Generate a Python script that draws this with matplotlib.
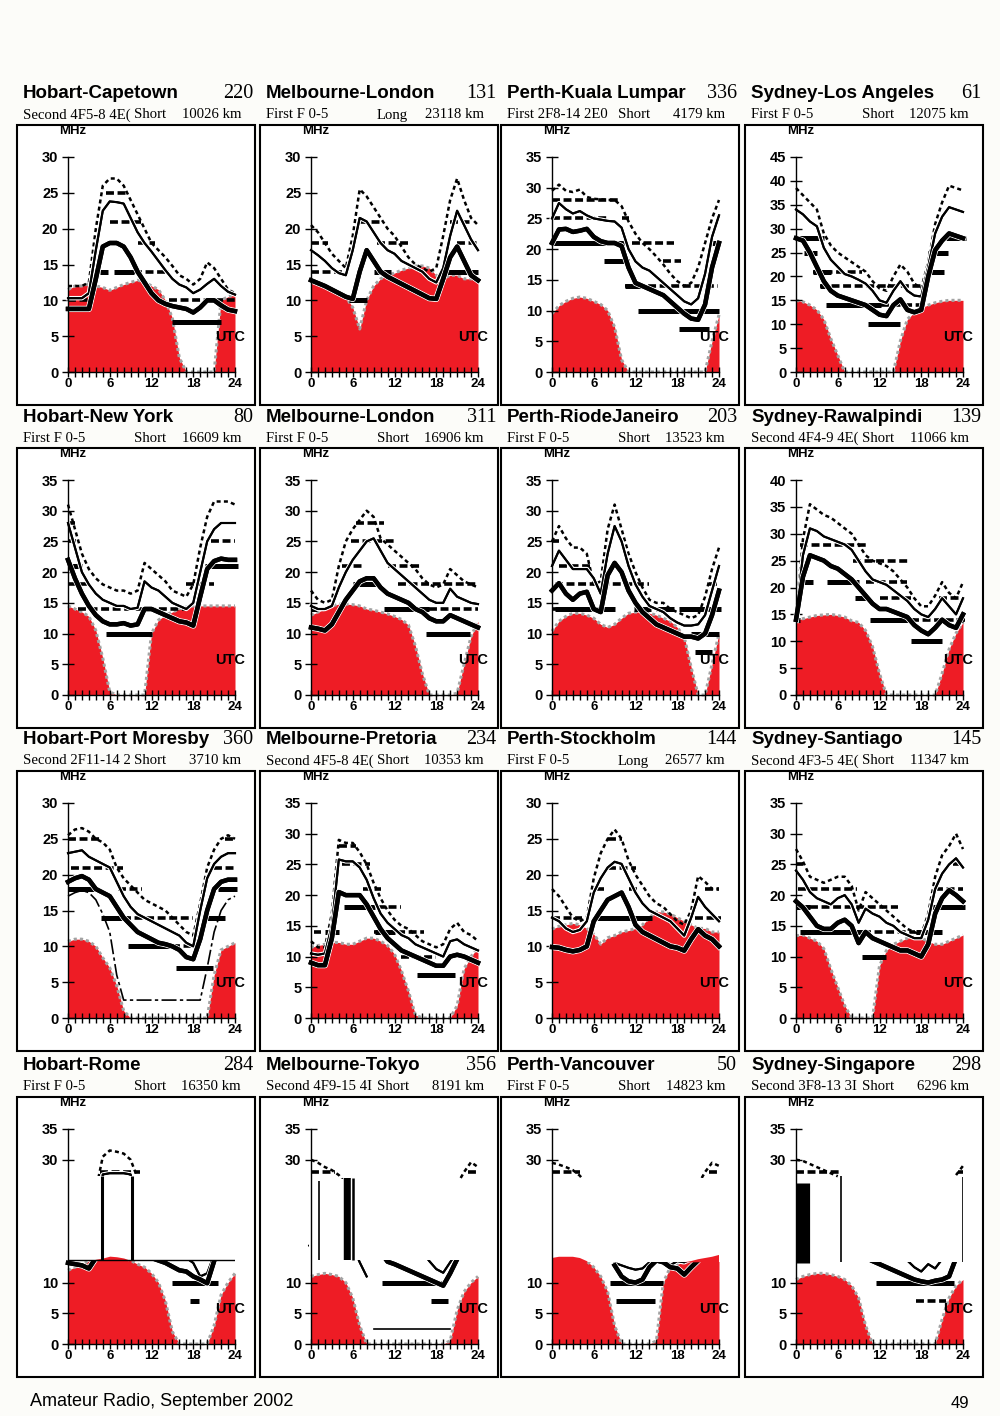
import numpy as np
import matplotlib
matplotlib.use('Agg')
import matplotlib.pyplot as plt
from matplotlib.patches import Rectangle
from matplotlib.transforms import blended_transform_factory
import matplotlib.patheffects as pe

# hours of the day, one value per hour
hours = np.arange(25)

# panel headers, row by row
titles = ['Hobart-Capetown', 'Melbourne-London', 'Perth-Kuala Lumpar', 'Sydney-Los Angeles',
          'Hobart-New York', 'Melbourne-London', 'Perth-RiodeJaneiro', 'Sydney-Rawalpindi',
          'Hobart-Port Moresby', 'Melbourne-Pretoria', 'Perth-Stockholm', 'Sydney-Santiago',
          'Hobart-Rome', 'Melbourne-Tokyo', 'Perth-Vancouver', 'Sydney-Singapore']
route_numbers = ['220', '131', '336', '61', '80', '311', '203', '139',
                 '360', '234', '144', '145', '284', '356', '50', '298']
modes = ['Second 4F5-8 4E(', 'First F 0-5', 'First 2F8-14 2E0', 'First F 0-5',
         'First F 0-5', 'First F 0-5', 'First F 0-5', 'Second 4F4-9 4E(',
         'Second 2F11-14 2', 'Second 4F5-8 4E(', 'First F 0-5', 'Second 4F3-5 4E(',
         'First F 0-5', 'Second 4F9-15 4I', 'First F 0-5', 'Second 3F8-13 3I']
paths = ['Short', 'Long', 'Short', 'Short', 'Short', 'Short', 'Short', 'Short',
         'Short', 'Short', 'Long', 'Short', 'Short', 'Short', 'Short', 'Short']
distances = ['10026 km', '23118 km', '4179 km', '12075 km', '16609 km', '16906 km', '13523 km', '11066 km',
             '3710 km', '10353 km', '26577 km', '11347 km', '16350 km', '8191 km', '14823 km', '6296 km']
y_tops = [30, 30, 35, 45, 35, 35, 35, 40, 30, 35, 30, 35, 35, 35, 35, 35]

# ---- Hobart-Capetown
cape_red = [11.5, 12, 12, 12.3, 12, 11.8, 11.4, 11.8, 12.2, 12.5, 12.8, 12.6, 12, 11.5, 10, 7.5, 2, 0, 0, 0, 0, 0, 10, 10.5, 10.8]
cape_thick = [8.8, 8.8, 8.8, 8.8, 13, 17.5, 18, 18, 17.5, 16, 14, 12.5, 11, 10, 9.5, 9.2, 9, 8.8, 8.3, 9, 10, 10, 9.3, 8.7, 8.5]
cape_thin = [10.3, 10.3, 10.3, 11, 17, 22.5, 23.8, 23.7, 23.5, 21.5, 19.5, 18, 16.8, 15.5, 14.2, 13, 12.2, 11.8, 11, 11.5, 12.3, 13, 12, 11.2, 10.8]
cape_dot = [12, 12, 12, 12.5, 20, 26, 27, 27, 26, 24, 22, 20, 18, 17, 16, 14.8, 13.5, 13, 12.2, 13, 15.3, 14.5, 13, 11.5, 11]
cape_dash = [(25, 5.5, 8.5), (21, 6, 10.5), (18, 10, 12.5), (14, 9.5, 14.5), (10, 14.5, 24), (10, 0, 3)]
cape_bar = [(14, 4.6, 5.8), (14, 6.6, 9.5), (7, 15, 22)]

# ---- Melbourne-London (long path)
lon1_red = [12.6, 12.4, 12, 11.5, 11, 10.5, 9, 6, 10, 12, 13, 13.5, 13.8, 14.2, 14.5, 14.8, 14.8, 14.5, 13.5, 13, 13.5, 13.5, 13, 13, 12.8]
lon1_thick = [12.8, 12.4, 12, 11.5, 11, 10.5, 10.2, 14, 17, 15.5, 14, 13.3, 12.8, 12.3, 11.8, 11.3, 10.8, 10.3, 10.2, 13, 16, 17.5, 15.5, 13.5, 12.8]
lon1_thin = [17, 16.3, 15.5, 14.5, 13.8, 13.5, 17, 21.5, 21, 19.5, 18, 17, 16.5, 15.5, 15, 14.5, 14, 13, 12.5, 14.5, 19, 22.5, 20.5, 18.5, 17]
lon1_dot = [20.5, 19.5, 18, 16.5, 15.5, 14.5, 19, 25.5, 24.5, 23, 21.5, 20, 19, 17.5, 16, 15, 14.5, 14, 14.5, 19, 24, 27, 24, 21.5, 20.5]
lon1_dash = [(18, 0, 2.5), (14, 0, 4.5), (21, 7, 10), (18, 9.5, 14), (21, 20, 23), (18, 21, 24), (14, 22, 24)]
lon1_bar = [(10, 5.5, 8), (14, 9, 11.5), (14, 19.5, 24)]

# ---- Perth-Kuala Lumpar
kl_red = [9.5, 10.8, 11.5, 12, 12.2, 12, 11.5, 11, 10, 7.3, 2, 0, 0, 0, 0, 0, 0, 0, 0, 0, 0, 0, 0, 5, 9.3]
kl_thick = [21, 23.2, 23.3, 22.8, 23, 23.3, 22, 21.3, 21, 21, 20.5, 17, 14.5, 14, 13.5, 13, 12.5, 11.5, 10.5, 9.5, 8.7, 8.5, 11, 17, 21]
kl_thin = [25, 27.5, 26.5, 25.8, 26.2, 25.5, 25, 24.8, 24.6, 24.5, 23.5, 20, 18, 17, 16.5, 15.5, 14.5, 13.5, 12.5, 11.5, 11, 12, 16, 22, 25.5]
kl_dot = [29.5, 30.5, 29.5, 29.3, 29.7, 28.5, 28.2, 28.1, 28, 28, 27, 24.5, 22.5, 21, 20, 18.8, 17.5, 16, 14.8, 14, 14.5, 17, 21, 25, 28]
kl_dash = [(28, 0, 9.5), (25, 0, 8), (25, 10, 11), (21, 11.5, 17.5), (18, 16, 18.5), (14, 10.5, 23.8), (10, 19.5, 21)]
kl_bar = [(21, 0, 10.5), (18, 7.5, 11), (14, 10.5, 13), (10, 12.3, 24), (7, 18.3, 22.5), (21, 23, 24)]

# ---- Sydney-Los Angeles
la_red = [15, 14.7, 14, 13, 11, 7, 3.5, 0, 0, 0, 0, 0, 0, 0, 0, 6.5, 11, 12.5, 13.5, 14, 14.5, 14.8, 15, 15, 15]
la_thick = [28, 27.5, 25, 22, 19, 17, 16, 15.5, 15, 14.5, 14, 13, 12, 11.7, 14, 15.2, 13, 12.5, 13, 20, 25.5, 27.5, 29, 28.5, 28]
la_thin = [34, 33, 31.5, 30.5, 26, 23.5, 22, 20.5, 20, 19.3, 18.5, 17, 15, 14.5, 17, 19, 17, 16, 15.8, 22, 29, 32.5, 34.5, 34, 33.5]
la_dot = [38.5, 37, 35.5, 34, 29, 26.5, 25, 24, 23, 22, 21, 19, 17.5, 17, 20, 22.5, 21, 18.5, 17.5, 23, 31, 35.5, 39, 38.5, 38]
la_dash = [(21, 2.5, 9.5), (18, 3.5, 18.5), (14, 12.2, 18)]
la_bar = [(28, 0, 4), (25, 1.2, 3), (21, 2.5, 5), (18, 3.5, 4.5), (14, 4.3, 12.2), (10, 10.3, 15),
          (25, 19, 21.8), (21, 19.3, 21.3), (28, 21.5, 24.5)]

# ---- Hobart-New York
ny_red = [14.5, 14, 13.5, 12.8, 10.5, 6, 0.5, 0, 0, 0, 0, 0, 10, 12.2, 13, 13.5, 14, 14.3, 14.5, 14.5, 14.5, 14.5, 14.5, 14.5, 14.5]
ny_thick = [22, 19, 16.5, 14.5, 13, 12, 11.5, 11.5, 11.7, 11.3, 11.5, 14, 14, 13.5, 13, 12.5, 12, 11.8, 11.3, 16, 20.5, 21.8, 22.2, 22, 22]
ny_thin = [28, 24, 20, 18, 16.5, 15.5, 15, 14.5, 14.5, 14, 14.2, 18.5, 17.5, 17, 16, 15, 14.5, 14, 15, 20, 25, 27, 28, 28, 28]
ny_dot = [31, 27, 23, 20.5, 19, 18, 17.5, 17, 17, 16.5, 17, 21.5, 20.5, 19.5, 18.5, 17, 16.5, 16, 18, 24, 29, 31.5, 31.5, 31.5, 31]
ny_dash = [(28, 0, 1), (25, 0, 1.5), (18, 0, 3), (14, 1.5, 17), (18, 17, 21), (25, 20.5, 24), (28, 22.5, 24)]
ny_bar = [(21, 0, 2), (10, 5.4, 12), (21, 19.7, 24.5)]

# ---- Melbourne-London (short path)
lon2_red = [13, 13.5, 14, 14.5, 14.8, 14.8, 14.7, 14.5, 14, 13.8, 13.5, 13.2, 12.8, 12.3, 11.4, 8, 3.5, 0, 0, 0, 0, 0.3, 5, 9.5, 12]
lon2_thick = [11, 10.8, 10.5, 11.5, 13.5, 15.5, 17, 18.5, 19, 19, 17.5, 16.5, 16, 15.5, 15, 14, 13.5, 12.5, 12, 12, 13, 12.5, 12, 11.5, 11]
lon2_thin = [14.5, 14, 14, 14.5, 17.5, 20, 22, 23.5, 25, 25.5, 23.5, 21.5, 20.5, 19.5, 18.5, 17.5, 16.5, 15.5, 15, 15, 17.3, 16, 15.5, 15, 14.8]
lon2_dot = [17, 15.5, 15, 15.5, 21, 25, 27, 28.5, 30, 29, 25.5, 24.5, 23.5, 22.5, 21.5, 20.5, 19, 18, 17.5, 18, 20.5, 19.5, 18.5, 18, 17.5]
lon2_dash = [(28, 6.5, 10.5), (25, 5.8, 12), (21, 4.5, 7.5), (21, 11, 16), (18, 12.5, 24), (14, 17, 24), (14, 0, 2)]
lon2_bar = [(18, 6, 9.5), (14, 10.5, 17), (10, 16.5, 22.8), (14, 0, 0.8)]

# ---- Perth-RiodeJaneiro
rio_red = [10.4, 12, 12.8, 13.3, 13.3, 13, 12.5, 11.5, 11, 11.5, 12.5, 13.3, 13.5, 13.5, 13.3, 13, 12.5, 12, 11, 9.5, 4.5, 0, 0, 5, 10]
rio_thick = [17, 18.2, 16.5, 15.5, 16.5, 16.8, 14, 13.5, 19.5, 21.5, 20, 17, 15, 13.5, 12.5, 11.5, 11, 10.5, 10, 9.5, 9.5, 9.2, 10, 13, 17]
rio_thin = [21, 23.5, 22, 20.5, 20.5, 20.5, 19, 16.5, 23, 27.5, 25, 21, 18, 16, 14.5, 14, 13.5, 12.5, 11.8, 11.3, 11.3, 11.5, 13, 17, 21]
rio_dot = [25, 27.5, 25.5, 24, 24, 23, 18, 18.5, 27, 31, 27, 23, 20, 17.5, 15.5, 15, 15, 14, 13.5, 13, 12.5, 13, 16, 20.5, 24]
rio_dash = [(25, 0, 1), (21, 1, 5.5), (18, 0.5, 14), (18, 22.5, 24), (14, 0, 1)]
rio_bar = [(14, 0.5, 9), (14, 11.8, 14.2), (14, 15, 17.5), (14, 18.3, 24.3), (10, 20, 24), (7, 20.5, 23)]

# ---- Sydney-Rawalpindi
rwp_red = [13.9, 14.2, 14.5, 14.8, 14.9, 15, 14.8, 14.5, 13.8, 13.5, 12, 9, 4, 0, 0, 0, 0, 0, 0, 0, 0, 4, 8.5, 11.5, 13.5]
rwp_thick = [14, 22, 26, 25.5, 25, 24, 23.5, 22.5, 21.5, 20, 18.5, 17, 16, 16, 15.5, 15, 14.5, 13, 12, 11.3, 12.5, 14, 13, 12.5, 15]
rwp_thin = [14.5, 26, 31, 30.5, 29.5, 29, 28.5, 28, 27, 25, 23, 21.5, 21, 20.5, 19.5, 18.5, 17.5, 16, 15, 14.5, 16, 18, 16.5, 15, 18]
rwp_dot = [15, 29, 35.5, 34.5, 33.5, 33, 32, 31, 30, 28, 26, 25, 24.5, 24, 23, 21.5, 20, 18, 16.5, 16.5, 18.5, 21, 19, 18, 21]
rwp_dash = [(28, 0.6, 10.3), (25, 8.2, 16.3), (21, 10, 16), (18, 12, 16.5), (18, 20.5, 24), (14, 16.5, 24.3)]
rwp_bar = [(21, 0.5, 2.5), (21, 4.5, 9), (18, 8.5, 10), (14, 10.6, 17), (10, 16.5, 21), (14, 0, 0.6), (14, 23, 24)]

# ---- Hobart-Port Moresby
pom_red = [10.7, 11, 11, 10.7, 10, 8.4, 7, 4.5, 1, 0, 0, 0, 0, 0, 0, 0, 0, 0, 0, 0, 0, 6, 9.5, 10, 10.5]
pom_thick = [19, 19.5, 19.8, 19.3, 18, 17.5, 17, 15.5, 14, 13, 12, 11.5, 11, 10.5, 10.3, 10, 9.5, 8.5, 8.2, 11, 15, 18, 19, 19.3, 19.3]
pom_thin = [23, 23.2, 23.4, 22.5, 22, 21.5, 21, 19, 17, 15.5, 14.5, 14, 13.5, 13, 12.5, 12, 11.5, 10.5, 10, 15, 19.5, 21.5, 22.5, 23, 23]
pom_dot = [25.5, 26.3, 26.5, 26, 25, 24.5, 23.5, 21, 19.5, 18.5, 17.5, 16.5, 16, 15.5, 15, 14, 13, 12, 11.5, 16, 21, 23.5, 25, 25.5, 25]
pom_low = [17, 17.5, 17.8, 17.5, 16.5, 14.5, 12, 6, 2.5, 2.5, 2.5, 2.5, 2.5, 2.5, 2.5, 2.5, 2.5, 2.5, 2.5, 2.5, 7, 12, 15, 16.5, 17]
pom_dash = [(25, 0, 4.8), (21, 0.5, 7.9), (18, 7.2, 10.7), (14, 7.9, 17.9), (10, 15, 19), (21, 21, 24), (25, 22.5, 24)]
pom_bar = [(18, 0, 4.3), (14, 4.8, 8.6), (10, 8.6, 15.5), (7, 15.5, 20.8), (14, 19.5, 22.5), (18, 21.5, 24.3)]

# ---- Melbourne-Pretoria
pre_red = [11.5, 11.8, 12, 12.3, 12.3, 12, 12, 12.5, 13, 13, 12.5, 11.8, 10.4, 7.7, 4.4, 0.5, 0, 0, 0, 0, 0, 2, 8, 10, 11.5]
pre_thick = [9, 8.6, 8.6, 13, 20.5, 20, 20, 20, 18.5, 16.5, 14.5, 13, 12, 11, 10.5, 10, 9.5, 9, 8.5, 8.5, 10, 10.3, 10, 9.5, 9]
pre_thin = [10.5, 10.3, 10.5, 15, 25.8, 25.5, 25.5, 24.5, 22.5, 19.5, 17, 15.5, 14.5, 13.5, 13, 12, 11.5, 11, 10.5, 10, 12.5, 12.8, 12, 11.5, 11]
pre_dot = [12.5, 11.5, 11.5, 17, 29, 28.5, 28.5, 27, 25, 22, 19.5, 17.5, 16, 15, 14.5, 13.5, 12.5, 12, 11.5, 12, 14.5, 15.5, 14, 13.5, 12.5]
pre_dash = [(28, 4, 6.5), (25, 4.5, 8.5), (21, 7.5, 10), (18, 9.5, 13), (14, 9, 16.2), (10, 13, 18), (14, 0.5, 1.5)]
pre_bar = [(14, 2, 4), (18, 4.7, 9.2), (14, 9.2, 12), (7, 15.2, 20.7)]

# ---- Perth-Stockholm
sto_red = [12.4, 12.8, 13, 13.2, 13, 12.5, 11.7, 10.3, 11.2, 11.5, 12, 12.2, 12.5, 13, 14, 14.8, 14.8, 14.5, 14, 13.5, 13, 12.5, 12.5, 12, 12]
sto_thick = [9.9, 9.8, 9.5, 9.3, 9.5, 10, 13.5, 15, 16.5, 17, 17.5, 15.5, 13, 12, 11.5, 11, 10.5, 10, 9.8, 9.4, 11, 12.4, 11.5, 11, 10]
sto_thin = [14, 13.5, 12.5, 12, 12.3, 13.5, 17.5, 19.5, 21, 21.8, 21.5, 19.5, 17.5, 16, 15, 14.5, 14, 13.5, 12.5, 11.5, 14, 16.9, 15.5, 14.5, 13.5]
sto_dot = [18, 17, 15.5, 14, 13.5, 14, 19.5, 23, 25, 26.3, 25, 22, 20, 18.5, 17, 16, 15.5, 14.5, 13.5, 13, 15, 19.8, 19, 18, 18]
sto_dash = [(14, 0, 4.3), (25, 8, 10), (21, 8, 12), (18, 6.5, 7.5), (18, 11, 12.5), (14, 20.5, 24.3), (18, 22, 24)]
sto_bar = [(14, 6.1, 14.3)]

# ---- Sydney-Santiago
san_red = [13.4, 13.5, 13, 12.5, 11.3, 8, 5, 2, 0, 0, 0, 0, 8.5, 11, 12, 12.5, 13, 13.2, 13, 12.5, 12, 12, 12.5, 13, 13.5]
san_thick = [19, 18, 16.5, 15, 14.5, 14.5, 15.5, 16, 15, 12.2, 14, 13, 12.5, 12, 11.5, 11, 11, 10.5, 10, 12, 17, 19.5, 20.8, 20, 19]
san_thin = [24, 22.5, 20.5, 19.5, 19, 18.5, 19.5, 20, 18.5, 15.5, 17.8, 17, 16.5, 15.5, 15, 14, 13.5, 13, 13, 16, 21, 23.5, 25, 26, 24.5]
san_dot = [27.5, 25.5, 23, 22.5, 22, 22.5, 23, 23, 21.5, 17.5, 20.5, 19.5, 18.5, 17.5, 16.5, 15.5, 14.5, 14, 13.5, 17, 23, 26.5, 28, 30, 27.5]
san_dash = [(25, 0, 1), (21, 0.3, 8.7), (18, 2, 14.7), (14, 9.7, 17.1), (21, 20, 24), (25, 22.5, 24)]
san_bar = [(18, 0, 2), (14, 0.6, 9.9), (10, 9.5, 13), (14, 17.3, 21), (18, 19.5, 24.3)]

# ---- Hobart-Rome (printed with a blank band)
rome_red = [12, 12.5, 13, 13.5, 13.8, 14, 14.3, 14.2, 14, 13.6, 13, 12.5, 11.5, 10, 7, 2, 0, 0, 0, 0, 0, 3, 8, 10, 11.5]
rome_thick = [13.2, 13, 12.8, 12.3, 14, 16, 18, 18, 17, 16, 15, 14.5, 14, 13.6, 13.2, 12.6, 12, 11.8, 11, 10.5, 9.9, 13.5, 17, 18.5, 19]
rome_thin = [16, 15.5, 15, 15, 16, 27.6, 27.8, 27.8, 27.8, 27.6, 18, 17, 16, 15.5, 15, 14.8, 14.5, 14, 13.2, 11, 11.5, 14.5, 17, 20, 21]
rome_dot = [20, 20, 21, 22, 25, 30.5, 31.5, 31.3, 31, 30, 27, 24, 22, 21, 20, 19, 18, 17, 16, 15, 17, 20, 22, 23, 23]
rome_dash = [(28, 4.6, 10.3)]
rome_bar = [(10, 15, 21.5), (7, 17.5, 18.8)]
rome_vlines = [(4.9, 13.6, 27.4, 2.2), (9.2, 13.6, 27.4, 2.2)]
rome_band = (13.6, 27.3)

# ---- Melbourne-Tokyo
tok_red = [11, 11.3, 11.5, 11.3, 11, 10, 7.5, 3, 0, 0, 0, 0, 0, 0, 0, 0, 0, 0, 0, 0, 0.5, 5.5, 8.5, 10, 11]
tok_thick = [16, 17, 18, 19, 20, 20, 19, 18, 17, 16, 15, 13.4, 13, 12.5, 12, 11.5, 11, 10.5, 10, 9.5, 11.5, 13.8, 16, 18, 19]
tok_thin = [20, 20, 20, 20, 20, 20, 16, 13.3, 11, None, None, None, None, None, None, None, 15, 13.5, 12.2, 11.6, 13.3, 15, 18, 20, 20]
tok_dot = [30, 29.5, 28.8, 28.3, 27.5, 26, None, None, None, None, None, None, None, None, None, None, None, None, None, None, None, 26, 28, 29.6, 28.8]
tok_low = [None, None, None, None, None, None, None, None, None, 2.5, 2.5, 2.5, 2.5, 2.5, 2.5, 2.5, 2.5, 2.5, 2.5, 2.5, 2.5, None, None, None, None]
tok_dash = [(28, 0, 3.5), (28, 22.6, 24)]
tok_bar = [(10, 10.2, 19.2), (7, 17.2, 19.7)]
tok_vlines = [(1.1, 13.6, 26.6, 1.2), (5.05, 13.6, 27.0, 3.2), (5.45, 13.6, 27.0, 2.6), (6.1, 13.6, 27.0, 1.8)]
tok_band = (13.6, 26.8)

# ---- Perth-Vancouver
van_red = [14, 14.2, 14.2, 14.2, 14, 13.5, 12.5, 11, 8.5, 3, 0, 0, 0, 0, 0, 0.5, 10, 12.5, 13, 13.3, 13.5, 13.8, 14, 14.2, 14.5]
van_thick = [None, None, None, None, None, None, None, None, None, 12.8, 11, 10.2, 10, 10.5, 12.5, 13.6, 13.3, 12.5, 12.3, 11.3, 12.5, 13.6, None, None, None]
van_thin = [None, None, None, None, None, None, None, None, None, 13.2, 12.8, 12.4, 12.1, 12.3, 13.3, 14.5, 14, 12.8, 13.5, 13.3, 13.8, 15, None, None, None]
van_dot = [29.5, 29.2, 28.8, 28.3, 27.4, 26, None, None, None, None, None, None, None, None, None, None, None, None, None, None, None, 26, 28, 29.5, 29]
van_dash = [(28, 0, 4), (28, 22.6, 24)]
van_bar = [(10, 8.3, 16), (7, 9.2, 14.8)]
van_band = (13.3, 27.0)

# ---- Sydney-Singapore
sin_red = [10.5, 11, 11.3, 11.5, 11.5, 11.3, 11, 10.5, 9.5, 7.5, 3, 0, 0, 0, 0, 0, 0, 0, 0, 0, 0, 4, 7.5, 9.5, 10.5]
sin_thick = [None, None, None, None, None, None, None, None, None, None, None, 13.5, 13, 12.5, 12, 11.5, 11, 10.5, 10.2, 10, 10.3, 10.5, 11, 14, None]
sin_thin = [None, None, None, None, None, None, None, None, None, None, None, None, None, None, None, None, 13.6, 12.5, 11.8, 13, 12.3, 13.8, None, None, None]
sin_dot = [30, 29.8, 29.3, 28.8, 28.3, 27.8, 27.3, None, None, None, None, None, None, None, None, None, None, None, None, None, None, None, None, 27.5, 29]
sin_dash = [(28, 0, 6.2), (28, 23.3, 24), (7, 17.2, 21.5)]
sin_bar = [(10, 11.5, 22.7)]
sin_vlines = [(0.95, 13.2, 26.2, 9.5), (6.4, 13.4, 27.3, 1.2), (24, 13.4, 27.2, 1.2)]
sin_band = (13.3, 26.8)

panels = [
    dict(red=cape_red, thick=cape_thick, thin=cape_thin, dot=cape_dot, dash=cape_dash, bar=cape_bar),
    dict(red=lon1_red, thick=lon1_thick, thin=lon1_thin, dot=lon1_dot, dash=lon1_dash, bar=lon1_bar),
    dict(red=kl_red, thick=kl_thick, thin=kl_thin, dot=kl_dot, dash=kl_dash, bar=kl_bar),
    dict(red=la_red, thick=la_thick, thin=la_thin, dot=la_dot, dash=la_dash, bar=la_bar),
    dict(red=ny_red, thick=ny_thick, thin=ny_thin, dot=ny_dot, dash=ny_dash, bar=ny_bar),
    dict(red=lon2_red, thick=lon2_thick, thin=lon2_thin, dot=lon2_dot, dash=lon2_dash, bar=lon2_bar),
    dict(red=rio_red, thick=rio_thick, thin=rio_thin, dot=rio_dot, dash=rio_dash, bar=rio_bar),
    dict(red=rwp_red, thick=rwp_thick, thin=rwp_thin, dot=rwp_dot, dash=rwp_dash, bar=rwp_bar),
    dict(red=pom_red, thick=pom_thick, thin=pom_thin, dot=pom_dot, dash=pom_dash, bar=pom_bar,
         low=pom_low, low_ls=(0, (9, 2, 2, 2))),
    dict(red=pre_red, thick=pre_thick, thin=pre_thin, dot=pre_dot, dash=pre_dash, bar=pre_bar),
    dict(red=sto_red, thick=sto_thick, thin=sto_thin, dot=sto_dot, dash=sto_dash, bar=sto_bar),
    dict(red=san_red, thick=san_thick, thin=san_thin, dot=san_dot, dash=san_dash, bar=san_bar),
    dict(red=rome_red, thick=rome_thick, thin=rome_thin, dot=rome_dot, dash=rome_dash, bar=rome_bar,
         band=rome_band, vlines=rome_vlines, cut=True),
    dict(red=tok_red, thick=tok_thick, thin=tok_thin, dot=tok_dot, dash=tok_dash, bar=tok_bar,
         band=tok_band, vlines=tok_vlines, low=tok_low, low_ls='-'),
    dict(red=van_red, thick=van_thick, thin=van_thin, dot=van_dot, dash=van_dash, bar=van_bar, band=van_band),
    dict(red=sin_red, thick=sin_thick, thin=sin_thin, dot=sin_dot, dash=sin_dash, bar=sin_bar,
         band=sin_band, vlines=sin_vlines),
]

SANS = 'Liberation Sans'
SERIF = 'Liberation Serif'
RED = '#ee1c25'
W, H = 1000, 1416
box_lefts = [17, 260, 501, 745]
box_tops = [125, 448, 771, 1097]
box_w, box_h = 238, 280

fig = plt.figure(figsize=(10, 14.16), dpi=100)
fig.patch.set_facecolor('#fcfcf9')


def fx(x):
    return x / W


def fy(y):
    return 1 - y / H


def arr(v):
    return np.array(v, dtype=float)


for i, d in enumerate(panels):
    row, col = divmod(i, 4)
    bl, bt = box_lefts[col], box_tops[row]
    fig.add_artist(Rectangle((fx(bl), fy(bt + box_h)), box_w / W, box_h / H, transform=fig.transFigure,
                             facecolor='white', edgecolor='black', lw=1.5, zorder=-1))
    # header lines above each box
    fig.text(fx(bl + 6), fy(bt - 31), titles[i], fontsize=13.5, fontweight='bold', family=SANS, va='center')
    fig.text(fx(bl + box_w - 2), fy(bt - 31), route_numbers[i], fontsize=14.5, family=SERIF,
             ha='right', va='center')
    fig.text(fx(bl + 6), fy(bt - 10), modes[i], fontsize=10.6, family=SERIF, va='center')
    fig.text(fx(bl + 117), fy(bt - 10), paths[i], fontsize=10.6, family=SERIF, va='center')
    fig.text(fx(bl + box_w - 14), fy(bt - 10), distances[i], fontsize=10.6, family=SERIF, ha='right', va='center')
    fig.text(fx(bl + 56), fy(bt + 6), 'MHz', fontsize=9.5, fontweight='bold', family=SANS, ha='center', va='center')

    ax = fig.add_axes([fx(bl + 51), fy(bt + 247), 167 / W, 215 / H])
    ax.patch.set_visible(False)
    ymax = y_tops[i]
    ax.set_xlim(0, 24)
    ax.set_ylim(0, ymax)
    for s in ['top', 'right']:
        ax.spines[s].set_visible(False)
    for s in ['left', 'bottom']:
        ax.spines[s].set_linewidth(1.0)
        ax.spines[s].set_zorder(10)

    red = arr(d['red'])
    ax.fill_between(hours, 0, red, color=RED, lw=0, zorder=1, clip_on=False)
    ax.plot(hours, red, color='#a3a3a3', lw=2.2, ls=(0, (1, 1)), zorder=1.5, clip_on=False)

    for f, t0, t1 in d['dash']:
        ax.plot([t0, t1], [f, f], color='black', lw=2.6, ls=(0, (2.2, 1.0)), zorder=2, clip_on=False)
    for f, t0, t1 in d['bar']:
        ax.plot([t0, t1], [f, f], color='black', lw=3.6, solid_capstyle='butt', zorder=2.2, clip_on=False)

    ax.plot(hours, arr(d['dot']), color='black', lw=1.8, ls=(0, (1.6, 1.3)), zorder=3, clip_on=False)
    ax.plot(hours, arr(d['thin']), color='black', lw=1.5, zorder=3, clip_on=False,
            path_effects=[pe.withStroke(linewidth=3.2, foreground='white'), pe.Normal()])
    ax.plot(hours, arr(d['thick']), color='black', lw=3.2, zorder=3.2, clip_on=False,
            path_effects=[pe.withStroke(linewidth=4.5, foreground='white'), pe.Normal()])
    if 'low' in d:
        ax.plot(hours, arr(d['low']), color='black', lw=1.2, ls=d['low_ls'], zorder=3, clip_on=False)

    if 'band' in d:
        lo, hi = d['band']
        ax.add_patch(Rectangle((-0.3, lo), 25.2, hi - lo, facecolor='white', edgecolor='none', zorder=6,
                               clip_on=False))
        ax.fill_between(hours, lo, red, where=red > lo, interpolate=True, color=RED, lw=0, zorder=7)
        for t, y0, y1, w in d.get('vlines', []):
            ax.vlines(t, y0, y1, color='black', lw=w, zorder=8)
        if d.get('cut'):
            ax.hlines(lo, 0, 24, color='black', lw=1.0, zorder=8)
        yt = [0, 5, 10, 30, 35]
    else:
        yt = list(range(0, ymax + 1, 5))

    ax.set_yticks(yt)
    ax.set_yticklabels([str(v) for v in yt], fontweight='bold', fontsize=10.5, family=SANS)
    ax.set_xticks([0, 6, 12, 18, 24])
    ax.set_xticks(range(25), minor=True)
    ax.set_xticklabels(['0', '6', '12', '18', '24'], fontweight='bold', fontsize=9.5, family=SANS)
    ax.tick_params(axis='y', direction='inout', length=8, width=1, pad=3)
    ax.tick_params(axis='x', which='both', direction='inout', length=7, width=1, pad=1)

    trans = blended_transform_factory(ax.transData, ax.transAxes)
    ax.text(23.3, 0.165, 'UTC', transform=trans, fontsize=10.5, fontweight='bold', family=SANS,
            ha='center', va='center', zorder=9)

fig.text(fx(30), fy(1401), 'Amateur Radio, September 2002', fontsize=13, family=SANS, va='center')
fig.text(fx(969), fy(1403), '49', fontsize=12, family=SANS, ha='right', va='center')

fig.savefig('out.png', dpi=100, facecolor=fig.get_facecolor())
